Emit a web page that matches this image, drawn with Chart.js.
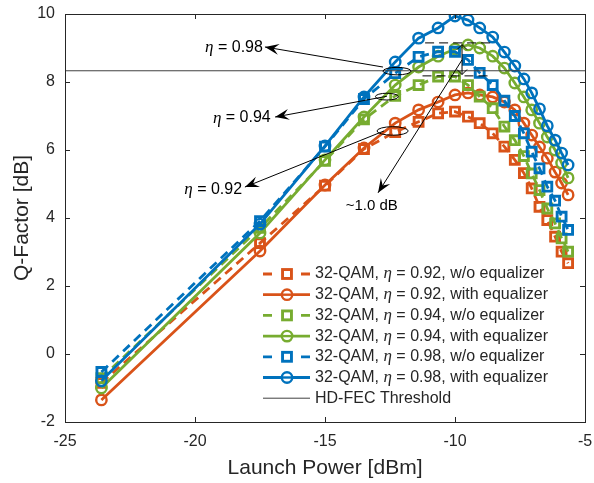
<!DOCTYPE html>
<html>
<head>
<meta charset="utf-8">
<script src="https://cdn.jsdelivr.net/npm/chart.js@4.4.0/dist/chart.umd.min.js"></script>
<style>
    html, body { margin: 0; padding: 0; background: #fff; }
    #wrap { width: 594px; height: 483px; }
</style>
</head>
<body>
<div id="wrap"><canvas id="qChart" width="594" height="483"></canvas></div>
<script>
// Launch power per point [dBm]
const launchPower = [-23.6, -17.5, -15, -13.5, -12.3, -11.4, -10.65, -10, -9.5, -9.05,
                     -8.55, -8.1, -7.7, -7.35, -7.05, -6.75, -6.45, -6.15, -5.9, -5.65];

// Q-factor [dB]
const q092NoEq = [-0.85, 3.26, 4.95, 6.03, 6.53, 6.83, 7.08, 7.13, 6.98, 6.79,
                  6.49, 6.10, 5.71, 5.32, 4.87, 4.33, 3.94, 3.45, 3.01, 2.67];
const q092Eq   = [-1.35, 3.03, 4.97, 6.06, 6.79, 7.18, 7.41, 7.62, 7.68, 7.62,
                  7.56, 7.41, 7.18, 6.79, 6.44, 6.09, 5.76, 5.35, 5.03, 4.68];
const q094NoEq = [-0.71, 3.71, 5.68, 6.90, 7.59, 7.91, 8.16, 8.16, 7.91, 7.57,
                  7.23, 6.69, 6.29, 5.82, 5.31, 4.82, 4.28, 3.84, 3.40, 3.01];
const q094Eq   = [-1.00, 3.56, 5.71, 6.97, 7.91, 8.44, 8.76, 8.97, 9.09, 9.00,
                  8.76, 8.41, 7.97, 7.56, 7.18, 6.79, 6.38, 6.00, 5.62, 5.18];
const q098NoEq = [-0.53, 3.91, 6.10, 7.50, 8.26, 8.74, 8.89, 8.89, 8.65, 8.27,
                  7.91, 7.45, 7.00, 6.49, 5.95, 5.46, 4.92, 4.51, 4.04, 3.65];
const q098Eq   = [-0.79, 3.82, 6.12, 7.56, 8.59, 9.29, 9.59, 9.94, 9.82, 9.59,
                  9.32, 8.88, 8.47, 8.09, 7.68, 7.21, 6.71, 6.29, 5.91, 5.56];

const hdFecLimit = 8.33;

const seriesLabels = [
    '32-QAM, η = 0.92, w/o equalizer',
    '32-QAM, η = 0.92, with equalizer',
    '32-QAM, η = 0.94, w/o equalizer',
    '32-QAM, η = 0.94, with equalizer',
    '32-QAM, η = 0.98, w/o equalizer',
    '32-QAM, η = 0.98, with equalizer'
];
const thresholdLabel = 'HD-FEC Threshold';

const xTicks = [-25, -20, -15, -10, -5];
const yTicks = [-2, 0, 2, 4, 6, 8, 10];

const FONT = '"Liberation Sans", Arial, Helvetica, sans-serif';
const ETA_FONT = '"Liberation Serif", "Times New Roman", serif';
const TEXT_COLOR = '#262626';
const COLORS = { o: '#D95319', g: '#77AC30', b: '#0072BD' };

// annotations, in data units
const notes = {
    ellipses: [
        { x: -12.23, y: 8.32, rx: 0.54, ry: 0.11 },
        { x: -12.62, y: 7.57, rx: 0.44, ry: 0.10 },
        { x: -12.4,  y: 6.56, rx: 0.6,  ry: 0.125 }
    ],
    arrows: [
        { from: [-12.77, 8.44], to: [-17.31, 9.03] },
        { from: [-12.62, 7.58], to: [-16.92, 6.97] },
        { from: [-12.73, 6.56], to: [-18.08, 4.91] },
        { from: [-9.73, 8.65],  to: [-12.96, 4.74] }
    ],
    texts: [
        { x: -18.5,  y: 9.0,  eta: true, text: ' = 0.98' },
        { x: -18.2,  y: 6.94, eta: true, text: ' = 0.94' },
        { x: -19.3,  y: 4.85, eta: true, text: ' = 0.92' },
        { x: -13.2,  y: 4.36, eta: false, text: '~1.0 dB' }
    ],
    dashes: [
        { x1: -11.15, x2: -8.65, y: 9.15 },
        { x1: -11.25, x2: -8.7,  y: 8.18 }
    ],
    span: { x: -9.73, y1: 9.1, y2: 8.22 }
};

function makeSeries(label, ys, color, dashed, order) {
    return {
        label: label,
        data: launchPower.map((x, i) => ({ x: x, y: ys[i] })),
        borderColor: color,
        backgroundColor: 'rgba(0,0,0,0)',
        borderWidth: 2.8,
        borderDash: dashed ? [9, 6] : [],
        pointStyle: dashed ? 'rect' : 'circle',
        pointRadius: dashed ? 6.3 : 5.2,
        pointBorderWidth: dashed ? 2.9 : 2.4,
        pointBorderColor: color,
        pointBackgroundColor: 'rgba(0,0,0,0)',
        tension: 0,
        order: order
    };
}

function drawEtaString(ctx, before, after, x, y, size, align) {
    const main = size + 'px ' + FONT;
    const eta = 'italic ' + (size + 1) + 'px ' + ETA_FONT;
    ctx.font = main;
    const w1 = ctx.measureText(before).width;
    const w3 = ctx.measureText(after).width;
    ctx.font = eta;
    const w2 = ctx.measureText('η').width;
    let sx = x;
    if (align === 'center') sx = x - (w1 + w2 + w3) / 2;
    ctx.textAlign = 'left';
    ctx.textBaseline = 'middle';
    ctx.font = main;
    ctx.fillText(before, sx, y);
    ctx.font = eta;
    ctx.fillText('η', sx + w1, y);
    ctx.font = main;
    ctx.fillText(after, sx + w1 + w2, y);
}

function arrowHead(ctx, fx, fy, tx, ty, len, half) {
    const a = Math.atan2(ty - fy, tx - fx);
    const c = Math.cos(a), s = Math.sin(a);
    ctx.beginPath();
    ctx.moveTo(tx, ty);
    ctx.lineTo(tx - len * c + half * s, ty - len * s - half * c);
    ctx.lineTo(tx - len * 0.62 * c, ty - len * 0.62 * s);
    ctx.lineTo(tx - len * c - half * s, ty - len * s + half * c);
    ctx.closePath();
    ctx.fill();
}

const decorPlugin = {
    id: 'decor',
    afterDatasetsDraw(chart) {
        const ctx = chart.ctx;
        const area = chart.chartArea;
        const xs = chart.scales.x, ys = chart.scales.y;
        const px = v => xs.getPixelForValue(v);
        const py = v => ys.getPixelForValue(v);

        ctx.save();
        // annotations
        ctx.strokeStyle = '#000';
        ctx.fillStyle = '#000';
        ctx.lineWidth = 1;
        notes.ellipses.forEach(e => {
            ctx.beginPath();
            ctx.ellipse(px(e.x), py(e.y), Math.abs(px(e.x + e.rx) - px(e.x)),
                Math.abs(py(e.y + e.ry) - py(e.y)), 0, 0, Math.PI * 2);
            ctx.stroke();
        });
        notes.arrows.forEach(a => {
            const fx = px(a.from[0]), fy = py(a.from[1]);
            const tx = px(a.to[0]), ty = py(a.to[1]);
            ctx.beginPath();
            ctx.moveTo(fx, fy);
            ctx.lineTo(tx, ty);
            ctx.stroke();
            arrowHead(ctx, fx, fy, tx, ty, 14, 5.5);
        });
        ctx.setLineDash([9, 5]);
        notes.dashes.forEach(d => {
            ctx.beginPath();
            ctx.moveTo(px(d.x1), py(d.y));
            ctx.lineTo(px(d.x2), py(d.y));
            ctx.stroke();
        });
        ctx.setLineDash([]);
        const sx = px(notes.span.x), sy1 = py(notes.span.y1), sy2 = py(notes.span.y2);
        ctx.beginPath();
        ctx.moveTo(sx, sy1); ctx.lineTo(sx, sy2);
        ctx.moveTo(sx - 5, sy1 + 5); ctx.lineTo(sx, sy1); ctx.lineTo(sx + 5, sy1 + 5);
        ctx.moveTo(sx - 5, sy2 - 5); ctx.lineTo(sx, sy2); ctx.lineTo(sx + 5, sy2 - 5);
        ctx.stroke();

        ctx.fillStyle = '#000';
        notes.texts.forEach(t => {
            if (t.eta) {
                drawEtaString(ctx, '', t.text, px(t.x), py(t.y), 16, 'center');
            } else {
                ctx.font = '15px ' + FONT;
                ctx.textAlign = 'center';
                ctx.textBaseline = 'middle';
                ctx.fillText(t.text, px(t.x), py(t.y));
            }
        });

        // box and inward ticks
        ctx.strokeStyle = TEXT_COLOR;
        ctx.lineWidth = 1;
        ctx.strokeRect(area.left + 0.5, area.top + 0.5, area.right - area.left, area.bottom - area.top);
        ctx.beginPath();
        xTicks.forEach(v => {
            const x = Math.round(px(v)) + 0.5;
            ctx.moveTo(x, area.bottom); ctx.lineTo(x, area.bottom - 5);
            ctx.moveTo(x, area.top); ctx.lineTo(x, area.top + 5);
        });
        yTicks.forEach(v => {
            const y = Math.round(py(v)) + 0.5;
            ctx.moveTo(area.left, y); ctx.lineTo(area.left + 5, y);
            ctx.moveTo(area.right, y); ctx.lineTo(area.right - 5, y);
        });
        ctx.stroke();

        // legend
        const lx0 = area.left + 198, lx1 = area.left + 245, mx = area.left + 222, tx = area.left + 250;
        const rowY = i => area.top + 260 + i * 20.7;
        chart.data.datasets.forEach((ds, i) => {
            const y = rowY(i);
            ctx.strokeStyle = ds.borderColor;
            ctx.lineWidth = ds.borderWidth;
            if (ds.label === thresholdLabel) {
                ctx.strokeStyle = ds.borderColor;
                ctx.beginPath();
                ctx.moveTo(lx0, y); ctx.lineTo(lx1, y);
                ctx.stroke();
            } else if (ds.borderDash.length) {
                ctx.beginPath();
                ctx.moveTo(lx0, y); ctx.lineTo(lx0 + 9, y);
                ctx.moveTo(lx1 - 9, y); ctx.lineTo(lx1, y);
                ctx.stroke();
                ctx.lineWidth = ds.pointBorderWidth;
                const h = ds.pointRadius * Math.SQRT1_2;
                ctx.strokeRect(mx - h, y - h, 2 * h, 2 * h);
            } else {
                ctx.beginPath();
                ctx.moveTo(lx0, y); ctx.lineTo(lx1, y);
                ctx.stroke();
                ctx.lineWidth = ds.pointBorderWidth;
                ctx.fillStyle = '#fff';
                ctx.beginPath();
                ctx.arc(mx, y, ds.pointRadius, 0, Math.PI * 2);
                ctx.fill();
                ctx.stroke();
                ctx.beginPath();
                ctx.moveTo(mx - ds.pointRadius, y); ctx.lineTo(mx + ds.pointRadius, y);
                ctx.stroke();
            }
            ctx.fillStyle = TEXT_COLOR;
            const parts = ds.label.split('η');
            if (parts.length > 1) {
                drawEtaString(ctx, parts[0], parts[1], tx, y, 16, 'left');
            } else {
                ctx.font = '16px ' + FONT;
                ctx.textAlign = 'left';
                ctx.textBaseline = 'middle';
                ctx.fillText(ds.label, tx, y);
            }
        });

        // axis titles
        ctx.fillStyle = TEXT_COLOR;
        ctx.font = '21px ' + FONT;
        ctx.textAlign = 'center';
        ctx.textBaseline = 'middle';
        ctx.fillText('Launch Power [dBm]', (area.left + area.right) / 2, 468);
        ctx.save();
        ctx.translate(22, (area.top + area.bottom) / 2);
        ctx.rotate(-Math.PI / 2);
        ctx.fillText('Q-Factor [dB]', 0, 0);
        ctx.restore();
        ctx.restore();
    }
};

const datasets = [
    makeSeries(seriesLabels[0], q092NoEq, COLORS.o, true, 6),
    makeSeries(seriesLabels[1], q092Eq, COLORS.o, false, 5),
    makeSeries(seriesLabels[2], q094NoEq, COLORS.g, true, 4),
    makeSeries(seriesLabels[3], q094Eq, COLORS.g, false, 3),
    makeSeries(seriesLabels[4], q098NoEq, COLORS.b, true, 2),
    makeSeries(seriesLabels[5], q098Eq, COLORS.b, false, 1),
    {
        label: thresholdLabel,
        data: [{ x: xTicks[0], y: hdFecLimit }, { x: xTicks[xTicks.length - 1], y: hdFecLimit }],
        borderColor: '#404040',
        borderWidth: 1,
        borderDash: [],
        pointRadius: 0,
        order: 0
    }
];

new Chart(document.getElementById('qChart').getContext('2d'), {
    type: 'line',
    data: { datasets: datasets },
    options: {
        responsive: false,
        animation: false,
        devicePixelRatio: 1,
        layout: { autoPadding: false, padding: { top: 14, right: 9, left: 0, bottom: 0 } },
        plugins: { legend: { display: false }, tooltip: { enabled: false } },
        scales: {
            x: {
                type: 'linear',
                min: -25, max: -5,
                afterFit: s => { s.height = 61; s.paddingLeft = 0; s.paddingRight = 0; },
                afterBuildTicks: s => { s.ticks = xTicks.map(v => ({ value: v })); },
                grid: { display: false, drawTicks: false },
                border: { display: false },
                ticks: { padding: 10, color: TEXT_COLOR, font: { family: FONT, size: 16 } }
            },
            y: {
                type: 'linear',
                min: -2, max: 10,
                afterFit: s => { s.width = 65; s.paddingTop = 0; s.paddingBottom = 0; },
                afterBuildTicks: s => { s.ticks = yTicks.map(v => ({ value: v })); },
                grid: { display: false, drawTicks: false },
                border: { display: false },
                ticks: { padding: 10, color: TEXT_COLOR, font: { family: FONT, size: 16 } }
            }
        }
    },
    plugins: [decorPlugin]
});
</script>
</body>
</html>
